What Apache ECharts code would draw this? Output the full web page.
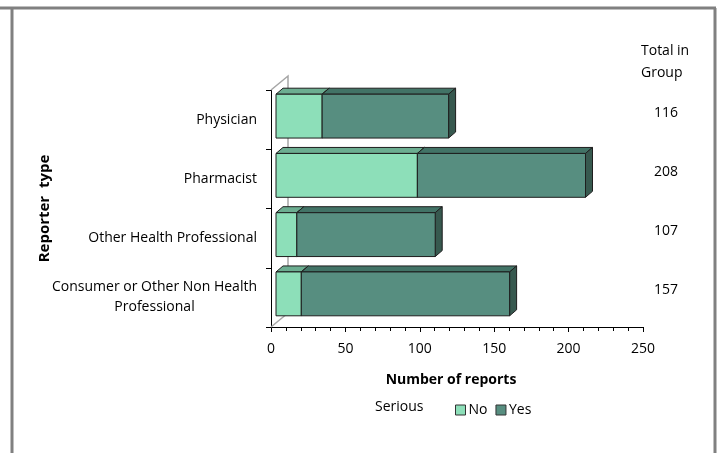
<!DOCTYPE html>
<html>
<head>
<meta charset="utf-8">
<script src="https://cdn.jsdelivr.net/npm/echarts@6/dist/echarts.min.js"></script>
<style>
	html, body { margin: 0; padding: 0; background: #fff; }
	#chart { width: 719px; height: 453px; }
</style>
</head>
<body>
<div id="chart"></div>
<script>
var categories = ['Physician', 'Pharmacist', 'Other Health Professional', 'Consumer or Other Non Health Professional'];
var seriousNo = [31, 95, 14, 17];
var seriousYes = [85, 113, 93, 140];
var totals = [116, 208, 107, 157];
var xTicks = [0, 50, 100, 150, 200, 250];

var font = '"Open Sans", "Liberation Sans", sans-serif';
var colors = {
	No: { front: '#8ddfb9', top: '#6cae91', side: '#4e8b70' },
	Yes: { front: '#578e80', top: '#427366', side: '#37594f' }
};

// depth of the fake 3d boxes
var ox = 5, oy = -3.5, dx = 7, dy = -6;

function barItem(name) {
	var c = colors[name];
	return function (params, api) {
		var cat = api.value(0);
		var p0 = api.coord([api.value(1), cat]);
		var p1 = api.coord([api.value(2), cat]);
		var h = api.size([0, 1])[1] * 0.74;
		var x0 = p0[0] + ox, x1 = p1[0] + ox;
		var y = p0[1] - h / 2 + oy;
		var edge = { stroke: '#1e1e1e', lineWidth: 1 };
		return {
			type: 'group',
			children: [
				{ type: 'polygon', shape: { points: [[x0, y], [x0 + dx, y + dy], [x1 + dx, y + dy], [x1, y]] },
					style: Object.assign({ fill: c.top }, edge) },
				{ type: 'polygon', shape: { points: [[x1, y], [x1 + dx, y + dy], [x1 + dx, y + h + dy], [x1, y + h]] },
					style: Object.assign({ fill: c.side }, edge) },
				{ type: 'rect', shape: { x: x0, y: y, width: x1 - x0, height: h },
					style: Object.assign({ fill: c.front }, edge) }
			]
		};
	};
}

var noData = categories.map(function (k, i) { return [i, 0, seriousNo[i]]; });
var yesData = categories.map(function (k, i) { return [i, seriousNo[i], seriousNo[i] + seriousYes[i]]; });
var totalData = categories.map(function (k, i) { return [i, totals[i]]; });

var chart = echarts.init(document.getElementById('chart'));
var option = {
	animation: false,
	textStyle: { fontFamily: font },
	grid: { left: 271, right: 76, top: 90, bottom: 126 },
	legend: {
		data: ['No', 'Yes'],
		left: 455, top: 403,
		icon: 'rect', itemWidth: 10, itemHeight: 10, itemGap: 8, padding: 0,
		itemStyle: { borderColor: '#333', borderWidth: 1 },
		textStyle: { fontFamily: font, fontSize: 14, color: '#000', padding: [0, 0, 0, -2] }
	},
	xAxis: {
		type: 'value', min: 0, max: 250, interval: 50,
		name: 'Number of reports', nameLocation: 'middle', nameGap: 46,
		nameTextStyle: { fontFamily: font, fontSize: 14, fontWeight: 'bold', color: '#000', padding: [0, 12, 0, 0] },
		axisLine: { show: true, lineStyle: { color: '#000', width: 1 } },
		axisTick: { show: true, length: 5, lineStyle: { color: '#000' } },
		minorTick: { show: true, splitNumber: 5, length: 4, lineStyle: { color: '#000' } },
		splitLine: { show: false },
		axisLabel: {
			margin: 15, fontFamily: font, fontSize: 14, color: '#000',
			formatter: function (v) { return xTicks.indexOf(v) >= 0 ? String(v) : ''; }
		}
	},
	yAxis: {
		type: 'category', data: categories, inverse: true,
		name: 'Reporter  type', nameLocation: 'middle', nameGap: 219, nameRotate: 90,
		nameMoveOverlap: false,
		nameTextStyle: { fontFamily: font, fontSize: 15, fontWeight: 'bold', color: '#000' },
		axisLine: { show: true, lineStyle: { color: '#000', width: 1 } },
		axisTick: { show: true, length: 5, lineStyle: { color: '#000' } },
		axisLabel: {
			margin: 14, fontFamily: font, fontSize: 14, color: '#000',
			formatter: function (v) {
				if (v.length > 30) {
					return '{a|Consumer or Other Non Health}\n{b|Professional}';
				}
				return v;
			},
			rich: {
				a: { fontFamily: font, fontSize: 14, color: '#000', lineHeight: 20 },
				b: { fontFamily: font, fontSize: 14, color: '#000', lineHeight: 20, width: 205, align: 'center' }
			}
		}
	},
	graphic: [
		{ type: 'line', shape: { x1: 0, y1: 8, x2: 716, y2: 8 }, style: { stroke: '#808080', lineWidth: 3 } },
		{ type: 'line', shape: { x1: 12, y1: 8, x2: 12, y2: 453 }, style: { stroke: '#808080', lineWidth: 3 } },
		{ type: 'line', shape: { x1: 715, y1: 8, x2: 715, y2: 453 }, style: { stroke: '#808080', lineWidth: 3 } },
		{ type: 'text', left: 641, top: 40, style: { text: 'Total in\nGroup', font: '14px ' + font, fill: '#000', lineHeight: 22 } },
		{ type: 'text', left: 375, top: 400, style: { text: 'Serious', font: '14px ' + font, fill: '#000' } }
	],
	series: [
		{
			name: 'wall', type: 'custom', silent: true, data: [[0]],
			renderItem: function (params, api) {
				var cs = params.coordSys;
				var x0 = cs.x, y0 = cs.y, yb = cs.y + cs.height;
				var st = { stroke: '#a6a6a6', lineWidth: 1.5, fill: null };
				return {
					type: 'group',
					children: [
						{ type: 'polyline', shape: { points: [[x0, y0], [x0 + 17, y0 - 14], [x0 + 17, yb - 14]] }, style: st },
						{ type: 'line', shape: { x1: x0, y1: yb, x2: x0 + 17, y2: yb - 14 }, style: st }
					]
				};
			}
		},
		{
			name: 'No', type: 'custom', data: noData, renderItem: barItem('No'),
			encode: { x: [1, 2], y: 0 },
			itemStyle: { color: colors.No.front, borderColor: '#333', borderWidth: 1 }
		},
		{
			name: 'Yes', type: 'custom', data: yesData, renderItem: barItem('Yes'),
			encode: { x: [1, 2], y: 0 },
			itemStyle: { color: colors.Yes.front, borderColor: '#333', borderWidth: 1 }
		},
		{
			name: 'totals', type: 'custom', silent: true, data: totalData,
			encode: { y: 0 },
			renderItem: function (params, api) {
				var cs = params.coordSys;
				var p = api.coord([0, api.value(0)]);
				return {
					type: 'text',
					style: {
						x: cs.x + cs.width + 11, y: p[1] - 7,
						text: String(api.value(1)),
						font: '14px ' + font, fill: '#000',
						verticalAlign: 'middle', align: 'left'
					}
				};
			}
		}
	]
};
chart.setOption(option);
window.addEventListener('resize', function () { chart.resize(); });
</script>
</body>
</html>
